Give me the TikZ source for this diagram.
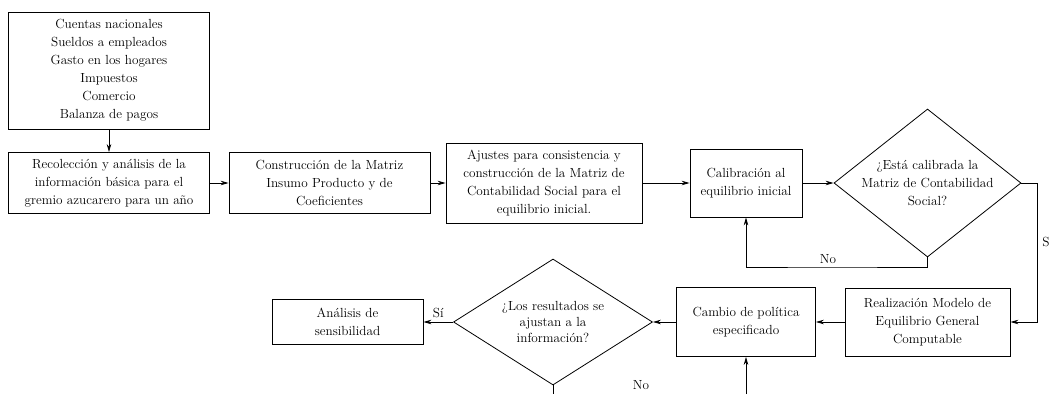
\documentclass[tikz,border=0pt]{standalone}
\usepackage{fontspec}
\usetikzlibrary{arrows.meta,shapes.geometric}

\begin{document}
\begin{tikzpicture}[x=1pt,y=-1pt,>={Stealth[length=8pt,width=4.5pt]},line width=0.8pt,
                    box node/.style={rectangle,draw,align=center,inner sep=2pt,
                                     font=\fontsize{13.2}{18}\selectfont},
                    decision node/.style={diamond,draw,align=center,inner xsep=-20pt,
                                          inner ysep=-10pt,font=\fontsize{13.2}{18}\selectfont},
                    label node/.style={font=\fontsize{13.2}{18}\selectfont}]
  \useasboundingbox (0,0) rectangle (1049,394);
  % fila superior
  \node[box node,minimum width=201pt,minimum height=117pt] (datos) at (109,70.5)
    {Cuentas nacionales\\Sueldos a empleados\\Gasto en los hogares\\Impuestos\\Comercio\\Balanza de pagos};
  \node[box node,minimum width=201pt,minimum height=61pt] (recol) at (109,183)
    {Recolección y análisis de la\\información básica para el\\gremio azucarero para un año};
  \node[box node,minimum width=201pt,minimum height=61pt] (constr) at (329.5,183)
    {Construcción de la Matriz\\Insumo Producto y de\\Coeficientes};
  \node[box node,minimum width=196pt,minimum height=80pt] (ajustes) at (544,183)
    {Ajustes para consistencia y\\construcción de la Matriz de\\Contabilidad Social para el\\equilibrio inicial.};
  \node[box node,minimum width=112pt,minimum height=68pt] (calib) at (746,183)
    {Calibración al\\equilibrio inicial};
  \node[decision node,minimum width=187pt,minimum height=148pt] (dec1) at (927.5,183)
    {¿Está calibrada la\\Matriz de Contabilidad\\Social?};
  % fila inferior
  \node[box node,minimum width=165pt,minimum height=68pt] (realiz) at (927.5,322)
    {Realización Modelo de\\Equilibrio General\\Computable};
  \node[box node,minimum width=139pt,minimum height=69pt] (cambio) at (746,322)
    {Cambio de política\\especificado};
  \node[decision node,minimum width=199pt,minimum height=126pt,
        font=\fontsize{13.2}{16}\selectfont] (dec2) at (553,322)
    {¿Los resultados se\\ajustan a la\\información?};
  \node[box node,minimum width=151pt,minimum height=45pt] (analisis) at (347.5,322)
    {Análisis de\\sensibilidad};
  \node[label node] (nofondo) at (641,385) {No};
  \coordinate (nolazo) at (828,267);
  \coordinate (silado) at (1037,242);
  \coordinate (fondoA) at (553,394);
  \coordinate (fondoB) at (746,394);

  \path[->]
    (datos) edge (recol)
    (recol) edge (constr)
    (constr) edge (ajustes)
    (ajustes) edge (calib)
    (calib) edge (dec1)
    (realiz) edge (cambio)
    (cambio) edge (dec2)
    (dec2) edge node[label node,above] {Sí} (analisis)
    (fondoB) edge (cambio.south)
    ;
  \draw[->] (dec1.south) |- (nolazo) node[label node,above] {No} -| (calib.south);
  \draw[->] (dec1.east) -| (silado) node[label node,anchor=west,inner sep=0pt,xshift=5pt] {S}
    |- (realiz.east);
  \draw (dec2.south) -- (fondoA);
\end{tikzpicture}
\end{document}
